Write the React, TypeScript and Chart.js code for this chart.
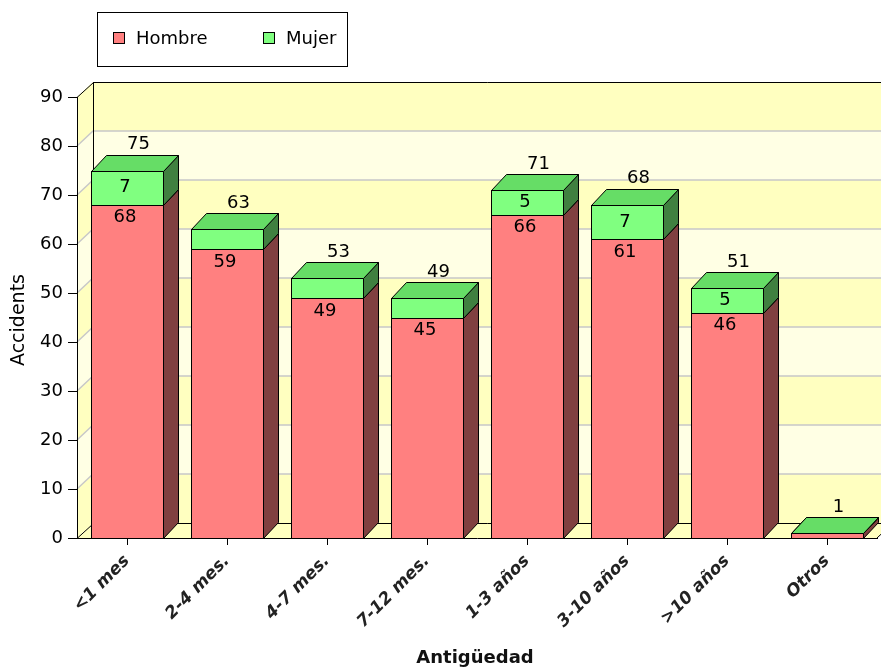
import React, { useEffect, useRef } from 'react';
import { Chart, registerables } from 'chart.js';
Chart.register(...registerables);

const categories = ['<1 mes', '2-4 mes.', '4-7 mes.', '7-12 mes.', '1-3 años', '3-10 años', '>10 años', 'Otros'];
const hombre = [68, 59, 49, 45, 66, 61, 46, 1];
const mujer = [7, 4, 4, 4, 5, 7, 5, 0];
const seriesNames = ['Hombre', 'Mujer'];
const yMin = 0;
const yMax = 90;
const yStep = 10;
const xTitle = 'Antigüedad';
const yTitle = 'Accidents';

const frontColors = ['#FF8080', '#80FF80'];
const sideColors = ['#804040', '#408040'];
const topColors = ['#D06060', '#66DD66'];
const bandColors = ['#FFFFC0', '#FFFFE4'];
const FONT = '"DejaVu Sans", sans-serif';
const WX = 16, WY = 15; // wall depth
const BX = 15, BY = 16; // bar depth

const threeD = {
  id: 'threeD',
  beforeDraw(chart: any) {
    const { ctx, chartArea, scales } = chart;
    const { left, right, top, bottom } = chartArea;
    const y = scales.y;
    const vals = y.ticks.map((t: any) => t.value);
    ctx.save();
    for (let k = 0; k < vals.length - 1; k++) {
      const y0 = y.getPixelForValue(vals[k]);
      const y1 = y.getPixelForValue(vals[k + 1]);
      ctx.fillStyle = bandColors[k % 2];
      ctx.fillRect(left + WX, y1 - WY, right - left, y0 - y1);
      ctx.beginPath();
      ctx.moveTo(left, y0);
      ctx.lineTo(left, y1);
      ctx.lineTo(left + WX, y1 - WY);
      ctx.lineTo(left + WX, y0 - WY);
      ctx.closePath();
      ctx.fill();
    }
    ctx.fillStyle = bandColors[0];
    ctx.beginPath();
    ctx.moveTo(left, bottom);
    ctx.lineTo(right, bottom);
    ctx.lineTo(right + WX, bottom - WY);
    ctx.lineTo(left + WX, bottom - WY);
    ctx.closePath();
    ctx.fill();
    ctx.strokeStyle = '#C8C8C8';
    ctx.lineWidth = 1.5;
    for (let k = 1; k < vals.length - 1; k++) {
      const yy = y.getPixelForValue(vals[k]);
      ctx.beginPath();
      ctx.moveTo(left, yy);
      ctx.lineTo(left + WX, yy - WY);
      ctx.lineTo(right + WX, yy - WY);
      ctx.stroke();
    }
    ctx.strokeStyle = '#000';
    ctx.lineWidth = 1;
    ctx.beginPath();
    ctx.moveTo(left, top + 0.5);
    ctx.lineTo(left + WX + 0.5, top - WY + 0.5);
    ctx.lineTo(right + WX, top - WY + 0.5);
    ctx.moveTo(left + WX + 0.5, top - WY);
    ctx.lineTo(left + WX + 0.5, bottom - WY + 0.5);
    ctx.lineTo(right + WX, bottom - WY + 0.5);
    ctx.moveTo(left, bottom + 0.5);
    ctx.lineTo(left + WX + 0.5, bottom - WY + 0.5);
    ctx.moveTo(right, bottom);
    ctx.lineTo(right + WX, bottom - WY);
    ctx.stroke();
    ctx.restore();
  },
  beforeDatasetsDraw(chart: any) {
    const { ctx } = chart;
    ctx.save();
    ctx.strokeStyle = '#000';
    ctx.lineWidth = 1;
    chart.data.datasets.forEach((ds: any, d: number) => {
      const meta = chart.getDatasetMeta(d);
      meta.data.forEach((el: any) => {
        const p = el.getProps(['x', 'y', 'base', 'width'], true);
        const l = Math.round(p.x - p.width / 2) + 0.5;
        const r = Math.round(p.x + p.width / 2) + 0.5;
        const yt = Math.round(p.y) + 0.5;
        const yb = Math.round(p.base) + 0.5;
        ctx.fillStyle = frontColors[d];
        ctx.fillRect(l, yt, r - l, yb - yt);
        ctx.strokeRect(l, yt, r - l, yb - yt);
        ctx.fillStyle = sideColors[d];
        ctx.beginPath();
        ctx.moveTo(r, yb);
        ctx.lineTo(r, yt);
        ctx.lineTo(r + BX, yt - BY);
        ctx.lineTo(r + BX, yb - BY);
        ctx.closePath();
        ctx.fill();
        ctx.stroke();
        ctx.fillStyle = topColors[d];
        ctx.beginPath();
        ctx.moveTo(l, yt);
        ctx.lineTo(r, yt);
        ctx.lineTo(r + BX, yt - BY);
        ctx.lineTo(l + BX, yt - BY);
        ctx.closePath();
        ctx.fill();
        ctx.stroke();
      });
    });
    ctx.restore();
    return false;
  },
  afterDraw(chart: any) {
    const { ctx, chartArea } = chart;
    ctx.save();
    ctx.fillStyle = '#000';
    ctx.font = `18px ${FONT}`;
    ctx.textAlign = 'center';
    ctx.textBaseline = 'middle';
    const m0 = chart.getDatasetMeta(0);
    const m1 = chart.getDatasetMeta(1);
    categories.forEach((_, i) => {
      const e0 = m0.data[i].getProps(['x', 'y', 'base'], true);
      const e1 = m1.data[i].getProps(['x', 'y', 'base'], true);
      if (e0.base - e0.y > 20) ctx.fillText(String(hombre[i]), e0.x - 2, e0.y + 13);
      if (e1.base - e1.y >= 22) ctx.fillText(String(mujer[i]), e1.x - 2, (e1.y + e1.base) / 2);
      ctx.fillText(String(hombre[i] + mujer[i]), e1.x + BX / 2 + 4, e1.y - BY - 10);
    });
    ctx.font = `19px ${FONT}`;
    ctx.save();
    ctx.translate(19, 320);
    ctx.rotate(-Math.PI / 2);
    ctx.fillText(yTitle, 0, 0);
    ctx.restore();
    ctx.font = `bold 18px ${FONT}`;
    ctx.fillStyle = '#111';
    ctx.fillText(xTitle, (chartArea.left + chartArea.right) / 2 - 2, 658);
    ctx.strokeStyle = '#000';
    ctx.lineWidth = 1;
    ctx.fillStyle = '#fff';
    ctx.fillRect(97.5, 12.5, 250, 54);
    ctx.strokeRect(97.5, 12.5, 250, 54);
    ctx.font = `18px ${FONT}`;
    ctx.textAlign = 'left';
    const lx = [113, 263];
    seriesNames.forEach((n, d) => {
      ctx.fillStyle = frontColors[d];
      ctx.fillRect(lx[d] + 0.5, 32.5, 11, 11);
      ctx.strokeRect(lx[d] + 0.5, 32.5, 11, 11);
      ctx.fillStyle = '#000';
      ctx.fillText(n, lx[d] + 23, 39);
    });
    ctx.restore();
  },
};

export default function App() {
  const ref = useRef<HTMLCanvasElement>(null);
  useEffect(() => {
    const chart = new Chart(ref.current!, {
      type: 'bar',
      data: {
        labels: categories,
        datasets: [
          { label: seriesNames[0], data: hombre, backgroundColor: frontColors[0], barPercentage: 0.72, categoryPercentage: 1 },
          { label: seriesNames[1], data: mujer, backgroundColor: frontColors[1], barPercentage: 0.72, categoryPercentage: 1 },
        ],
      },
      options: {
        responsive: false,
        animation: false,
        layout: { padding: { top: 97, right: 4, left: 0, bottom: 0 } },
        plugins: { legend: { display: false }, tooltip: { enabled: false } },
        scales: {
          x: {
            stacked: true,
            grid: { display: true, drawOnChartArea: false, drawTicks: true, tickLength: 7, offset: false, color: '#000' },
            border: { display: true, color: '#000' },
            ticks: {
              minRotation: 45,
              maxRotation: 45,
              autoSkip: false,
              padding: 6,
              color: '#222',
              font: { family: FONT, size: 17, weight: 'bold', style: 'italic' },
            },
            afterFit: (s: any) => { s.height = 132; },
          },
          y: {
            stacked: true,
            min: yMin,
            max: yMax,
            ticks: { stepSize: yStep, color: '#000', padding: 5, font: { family: FONT, size: 18 } },
            grid: { drawOnChartArea: false, tickLength: 9, color: '#000' },
            border: { display: true, color: '#000' },
            afterFit: (s: any) => { s.width = 77; },
          },
        },
      } as any,
      plugins: [threeD],
    });
    return () => chart.destroy();
  }, []);
  return (
    <div style={{ position: 'absolute', left: 0, top: 0, width: 881, height: 670, background: '#fff' }}>
      <canvas ref={ref} width={881} height={670} />
    </div>
  );
}
